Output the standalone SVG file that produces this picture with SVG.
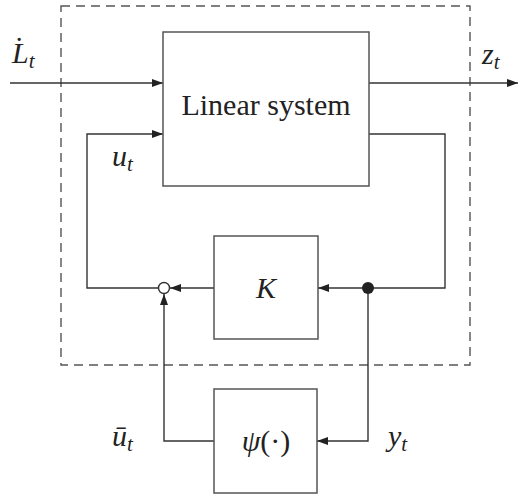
<svg xmlns="http://www.w3.org/2000/svg" width="519" height="495" viewBox="0 0 519 495">
<style>
.box{fill:#fff;stroke:#555;stroke-width:1.5}
.wire{fill:none;stroke:#333;stroke-width:1.4}
.dash{fill:none;stroke:#555;stroke-width:1.4;stroke-dasharray:9 6}
.rm{font-family:"Liberation Serif","DejaVu Serif",serif;fill:#222}
.m{font-family:"Liberation Serif","DejaVu Serif",serif;font-style:italic;fill:#222}
</style>
<defs>
<marker id="ah" markerUnits="userSpaceOnUse" markerWidth="12" markerHeight="9" refX="11" refY="4" orient="auto">
<path d="M0,0 L11,4 L0,8 z" fill="#222"/>
</marker>
</defs>
<rect class="dash" x="61" y="6" width="409" height="359"/>
<g id="connectors">
<path class="wire" d="M10 83 H163" marker-end="url(#ah)"/>
<path class="wire" d="M369 83 H518" marker-end="url(#ah)"/>
<path class="wire" d="M369 134 H445 V288 H318" marker-end="url(#ah)"/>
<path class="wire" d="M214 288 H170" marker-end="url(#ah)"/>
<path class="wire" d="M158.5 288 H87 V134 H163" marker-end="url(#ah)"/>
<path class="wire" d="M214 441 H164 V294" marker-end="url(#ah)"/>
<path class="wire" d="M368 288 V441 H317" marker-end="url(#ah)"/>
</g>
<g id="linear-system">
<rect class="box" x="163" y="32" width="206" height="154"/>
<text class="rm" x="266" y="115" font-size="30" text-anchor="middle">Linear system</text>
</g>
<g id="K">
<rect class="box" x="214" y="236" width="104" height="103"/>
<text class="m" x="266" y="298" font-size="30" text-anchor="middle">K</text>
</g>
<g id="psi">
<rect class="box" x="214" y="389" width="103" height="104"/>
<text class="m" x="266" y="451" font-size="30" text-anchor="middle">ψ<tspan font-style="normal">(·)</tspan></text>
</g>
<g id="sum">
<circle cx="164" cy="288" r="5.5" fill="#fff" stroke="#333" stroke-width="1.4"/>
</g>
<g id="branch">
<circle cx="368" cy="288" r="6" fill="#222"/>
</g>
<g id="labels">
<text class="m" x="12" y="63" font-size="30">L̇<tspan font-size="21" dy="5">t</tspan></text>
<text class="m" x="482" y="64" font-size="30">z<tspan font-size="21" dy="5">t</tspan></text>
<text class="m" x="112" y="166" font-size="30">u<tspan font-size="21" dy="5">t</tspan></text>
<text class="m" x="112" y="446" font-size="30">ū<tspan font-size="21" dy="5">t</tspan></text>
<text class="m" x="388" y="446" font-size="30">y<tspan font-size="21" dy="5">t</tspan></text>
</g>
</svg>
